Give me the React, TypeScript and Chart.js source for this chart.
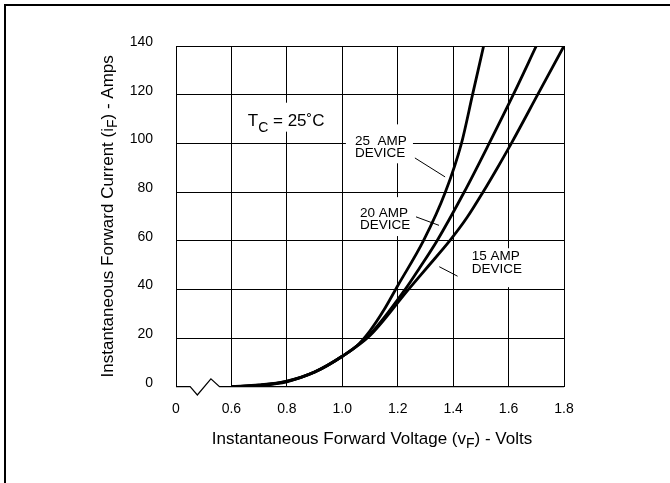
import React, { useEffect, useRef } from 'react';
import { Chart, registerables } from 'chart.js';

Chart.register(...registerables);

// ---- data ----
const voltage25 = [0.6, 0.7, 0.8, 0.9, 1.0, 1.05, 1.1, 1.15, 1.2, 1.293, 1.372, 1.43, 1.47, 1.51];
const current25 = [0, 0.7, 2.3, 6, 12.5, 16.5, 23, 31.5, 41.5, 60, 80, 100, 120, 140];
const voltage20 = [0.6, 0.7, 0.8, 0.9, 1.0, 1.1, 1.227, 1.28, 1.342, 1.44, 1.53, 1.617, 1.7];
const current20 = [0, 0.6, 2.2, 6, 12.5, 21.5, 40, 49, 60, 80, 100, 120, 140];
const voltage15 = [0.6, 0.7, 0.8, 0.9, 1.0, 1.1, 1.239, 1.31, 1.388, 1.45, 1.508, 1.56, 1.61, 1.705, 1.8];
const current15 = [0, 0.5, 2.0, 6, 12.5, 21, 40, 49.5, 60, 69.5, 80, 90, 100, 120, 140];

const xTickValues = [0.4, 0.6, 0.8, 1.0, 1.2, 1.4, 1.6, 1.8];
const xTickLabels = ['0', '0.6', '0.8', '1.0', '1.2', '1.4', '1.6', '1.8'];
const yTickValues = [0, 20, 40, 60, 80, 100, 120, 140];
const yTickLabels = ['0', '20', '40', '60', '80', '100', '120', '140'];

const FONT = '"Liberation Sans", Arial, Helvetica, sans-serif';

type Part = { text: string; sub?: boolean };

function drawParts(ctx: CanvasRenderingContext2D, parts: Part[], x: number, y: number, size: number, subSize: number, subDy: number, align: 'left' | 'center') {
  ctx.save();
  ctx.textBaseline = 'alphabetic';
  ctx.textAlign = 'left';
  let total = 0;
  const widths = parts.map((p) => {
    ctx.font = `${p.sub ? subSize : size}px ${FONT}`;
    const w = ctx.measureText(p.text).width;
    total += w;
    return w;
  });
  let cx = align === 'center' ? x - total / 2 : x;
  parts.forEach((p, i) => {
    ctx.font = `${p.sub ? subSize : size}px ${FONT}`;
    ctx.fillText(p.text, cx, p.sub ? y + subDy : y);
    cx += widths[i];
  });
  ctx.restore();
}

const annotationPlugin = {
  id: 'annotations',
  beforeDatasetsDraw(chart: any) {
    const ctx: CanvasRenderingContext2D = chart.ctx;
    const xs = chart.scales.x;
    const ys = chart.scales.y;
    const px = (v: number) => xs.getPixelForValue(v);
    const py = (v: number) => ys.getPixelForValue(v);
    ctx.save();
    ctx.fillStyle = '#fff';
    const boxes = [
      [0.645, 0.963, 116.7, 104.8],
      [1.013, 1.255, 107.8, 91.8],
      [1.046, 1.259, 77.9, 61.9],
      [1.45, 1.663, 56.9, 40.9],
    ];
    boxes.forEach(([x0, x1, y0, y1]) => {
      ctx.fillRect(px(x0), py(y0), px(x1) - px(x0), py(y1) - py(y0));
    });
    ctx.fillStyle = '#000';
    // T_C label
    drawParts(ctx, [{ text: 'T' }, { text: 'C', sub: true }, { text: ' = 25˚C' }], px(0.659), py(107), 17, 14, 5.5, 'left');
    // device labels
    ctx.font = `13.5px ${FONT}`;
    ctx.textBaseline = 'middle';
    ctx.textAlign = 'left';
    ctx.fillText('25  AMP', px(1.046), py(100.9));
    ctx.fillText('DEVICE', px(1.046), py(95.8));
    ctx.fillText('20 AMP', px(1.064), py(71.4));
    ctx.fillText('DEVICE', px(1.064), py(66.4));
    ctx.fillText('15 AMP', px(1.467), py(53.7));
    ctx.fillText('DEVICE', px(1.467), py(48.2));
    // leader lines
    ctx.strokeStyle = '#000';
    ctx.lineWidth = 1;
    const leaders = [
      [1.262, 94.0, 1.371, 86.2],
      [1.266, 69.8, 1.349, 66.3],
      [1.35, 49.3, 1.416, 45.4],
    ];
    leaders.forEach(([a, b, c, d]) => {
      ctx.beginPath();
      ctx.moveTo(px(a), py(b));
      ctx.lineTo(px(c), py(d));
      ctx.stroke();
    });
    // bottom axis line with break
    ctx.lineWidth = 1.2;
    ctx.beginPath();
    ctx.moveTo(px(0.4), py(0));
    ctx.lineTo(px(0.451), py(0));
    ctx.lineTo(px(0.477), py(-3.4));
    ctx.lineTo(px(0.526), py(3.2));
    ctx.lineTo(px(0.557), py(0));
    ctx.lineTo(px(1.8), py(0));
    ctx.stroke();
    ctx.restore();
  },
  afterDraw(chart: any) {
    const ctx: CanvasRenderingContext2D = chart.ctx;
    const area = chart.chartArea;
    ctx.save();
    ctx.fillStyle = '#000';
    // outer frame (top and left edges)
    ctx.fillRect(4, 4, 670, 2);
    ctx.fillRect(4, 4, 2, 483);
    // x title
    drawParts(ctx, [{ text: 'Instantaneous Forward Voltage (v' }, { text: 'F', sub: true }, { text: ') - Volts' }], (area.left + area.right) / 2 + 2, 444, 17, 14, 4, 'center');
    // y title
    ctx.translate(113, (area.top + area.bottom) / 2);
    ctx.rotate(-Math.PI / 2);
    drawParts(ctx, [{ text: 'Instantaneous Forward Current (i' }, { text: 'F', sub: true }, { text: ') - Amps' }], 0, 0, 17, 14, 4, 'center');
    ctx.restore();
  },
};

function toPoints(xs: number[], ys: number[]) {
  return xs.map((x, i) => ({ x, y: ys[i] }));
}

export default function App() {
  const ref = useRef<HTMLCanvasElement | null>(null);
  useEffect(() => {
    if (!ref.current) return;
    const lineStyle = {
      borderColor: '#000',
      borderWidth: 2.8,
      pointRadius: 0,
      fill: false,
      cubicInterpolationMode: 'monotone' as const,
    };
    const chart = new Chart(ref.current, {
      type: 'line',
      data: {
        datasets: [
          { label: '25 AMP DEVICE', data: toPoints(voltage25, current25), ...lineStyle },
          { label: '20 AMP DEVICE', data: toPoints(voltage20, current20), ...lineStyle },
          { label: '15 AMP DEVICE', data: toPoints(voltage15, current15), ...lineStyle },
        ],
      },
      options: {
        animation: false,
        responsive: false,
        maintainAspectRatio: false,
        layout: { padding: { left: 0, top: 46, right: 106, bottom: 0 } },
        plugins: { legend: { display: false }, tooltip: { enabled: false } },
        scales: {
          x: {
            type: 'linear',
            min: 0.4,
            max: 1.8,
            afterBuildTicks: (s: any) => {
              s.ticks = xTickValues.map((v) => ({ value: v }));
            },
            afterFit: (s: any) => {
              s.height = 96.3;
            },
            ticks: {
              callback: (_v: any, i: number) => xTickLabels[i],
              color: '#000',
              font: { family: FONT, size: 14 },
              padding: 14,
              maxRotation: 0,
              autoSkip: false,
            },
            grid: { color: '#000', lineWidth: 1, drawTicks: false },
            border: { display: false },
          },
          y: {
            min: 0,
            max: 140,
            afterBuildTicks: (s: any) => {
              s.ticks = yTickValues.map((v) => ({ value: v }));
            },
            afterFit: (s: any) => {
              s.width = 176;
            },
            ticks: {
              callback: (_v: any, i: number) => yTickLabels[i],
              color: '#000',
              font: { family: FONT, size: 14 },
              padding: 23,
              labelOffset: -4,
              autoSkip: false,
            },
            grid: {
              color: (c: any) => (c.tick && c.tick.value === 0 ? 'rgba(0,0,0,0)' : '#000'),
              lineWidth: 1,
              drawTicks: false,
            },
            border: { display: true, color: '#000', width: 1 },
          },
        },
      },
      plugins: [annotationPlugin],
    });
    return () => chart.destroy();
  }, []);
  return (
    <div style={{ position: 'absolute', left: 0, top: 0, width: 670, height: 483, background: '#fff' }}>
      <canvas ref={ref} width={670} height={483} style={{ width: 670, height: 483, display: 'block' }} />
    </div>
  );
}
